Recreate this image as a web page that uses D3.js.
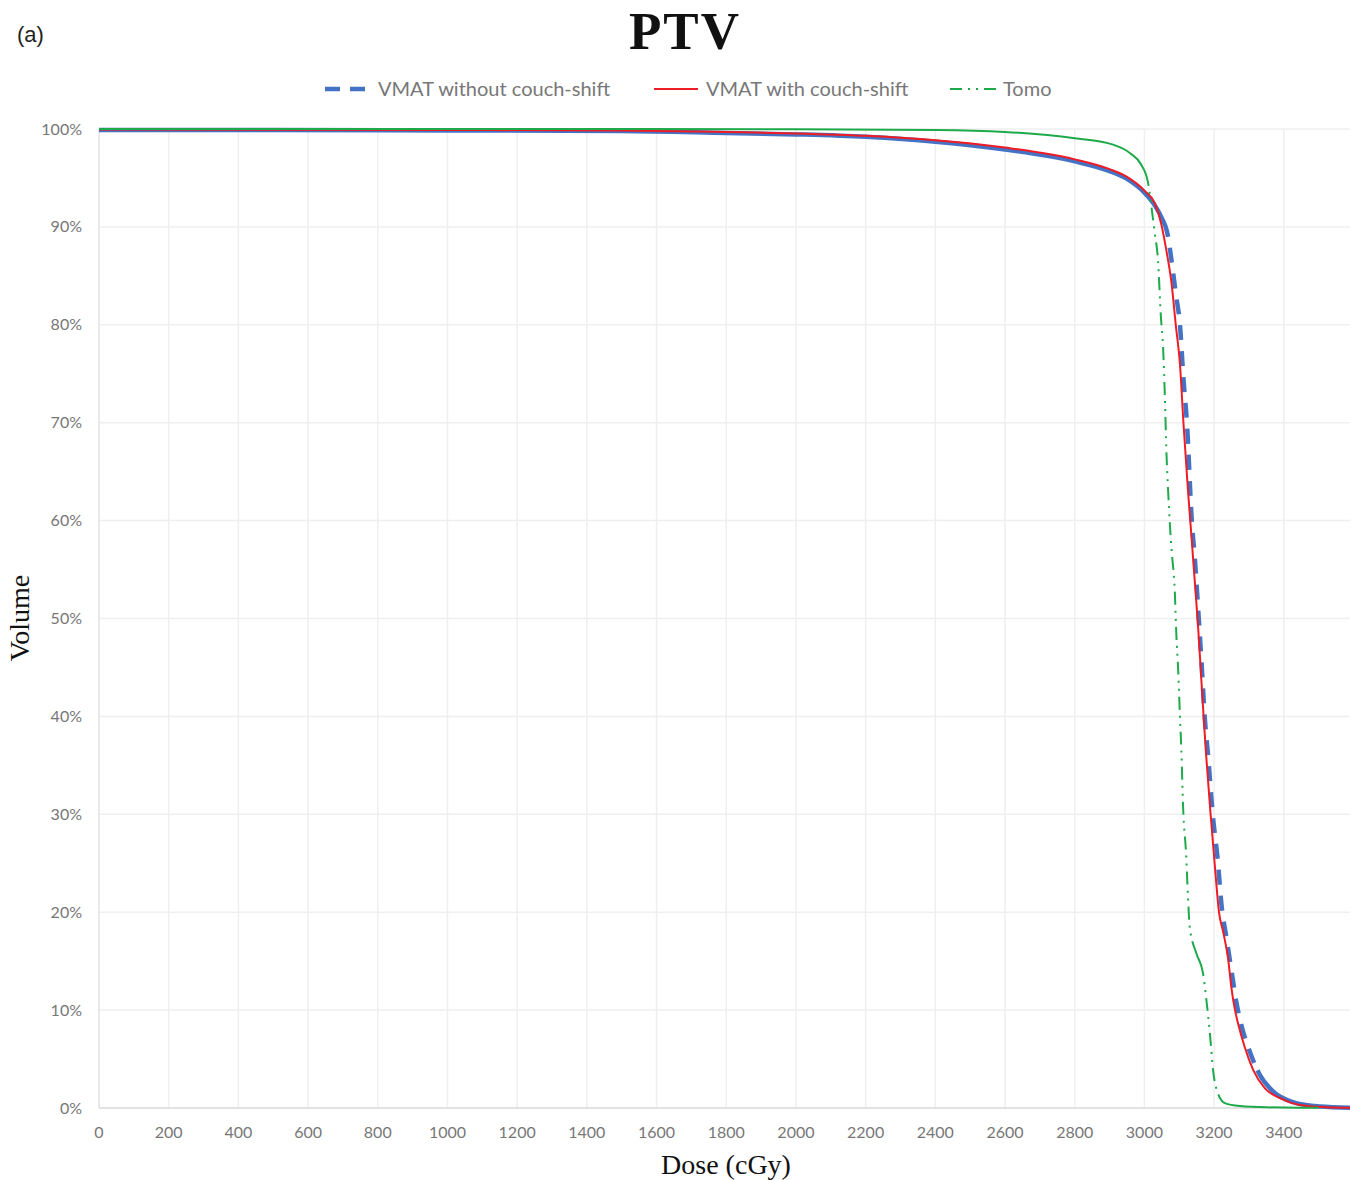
<!DOCTYPE html>
<html>
<head>
<meta charset="utf-8">
<title>PTV dose-volume histogram</title>
<script src="https://d3js.org/d3.v7.min.js"></script>
<style>
  body { margin: 0; background: #fff; }
  svg text { font-family: Lato, "Open Sans", sans-serif; }
</style>
</head>
<body>
<div id="chart"></div>
<script>
// ---- data (dose in cGy, volume in %) ----
const xTicks = [0, 200, 400, 600, 800, 1000, 1200, 1400, 1600, 1800, 2000, 2200, 2400, 2600, 2800, 3000, 3200, 3400];
const yTicks = [0, 10, 20, 30, 40, 50, 60, 70, 80, 90, 100];
const seriesNames = ["VMAT without couch-shift", "VMAT with couch-shift", "Tomo"];

const vmatNoShiftDose = [0, 500, 1000, 1500, 1800, 2000, 2200, 2400, 2600, 2800, 2900, 2950, 3000, 3030, 3050, 3065, 3080, 3090, 3102, 3112, 3122, 3136, 3145, 3156, 3164, 3173, 3183, 3196, 3210, 3222, 3235, 3250, 3264, 3278, 3302, 3331, 3369, 3426, 3503, 3590];
const vmatNoShiftVol  = [99.9, 99.9, 99.85, 99.8, 99.6, 99.45, 99.2, 98.7, 97.9, 96.7, 95.7, 94.9, 93.5, 92.2, 90.9, 89.5, 86.0, 83.2, 80.0, 74.5, 70.0, 60.0, 56.0, 50.0, 45.5, 40.0, 35.9, 30.0, 25.5, 20.5, 17.5, 14.0, 10.8, 8.5, 5.8, 3.4, 1.7, 0.6, 0.15, 0.03];

const vmatShiftDose = [0, 1000, 1500, 1800, 2000, 2200, 2400, 2600, 2800, 2900, 2950, 3000, 3030, 3049, 3063, 3078, 3090, 3102, 3112, 3125, 3135, 3145, 3154, 3164, 3176, 3190, 3205, 3214, 3226, 3240, 3250, 3260, 3269, 3288, 3312, 3346, 3389, 3446, 3520, 3590];
const vmatShiftVol  = [99.95, 99.9, 99.85, 99.7, 99.55, 99.3, 98.85, 98.1, 96.9, 95.9, 95.1, 93.7, 92.4, 90.2, 87.6, 84.2, 80.0, 76.0, 70.0, 63.1, 58.4, 53.6, 49.2, 43.4, 36.6, 30.0, 23.5, 20.0, 18.0, 15.3, 12.2, 10.0, 8.6, 6.2, 3.9, 2.0, 1.0, 0.3, 0.08, 0.02];

const tomoDose = [0, 1500, 2000, 2400, 2600, 2800, 2910, 2960, 2990, 3010, 3020, 3030, 3039, 3047, 3054, 3059, 3063, 3068, 3073, 3078, 3087, 3092, 3097, 3102, 3106, 3111, 3120, 3125, 3130, 3149, 3168, 3178, 3188, 3197, 3211, 3231, 3274, 3350, 3500];
const tomoVol  = [100, 100, 99.97, 99.9, 99.7, 99.05, 98.4, 97.5, 96.4, 94.6, 92.1, 89.3, 86.6, 81.0, 77.4, 72.3, 67.2, 63.1, 59.7, 57.0, 52.9, 48.1, 44.7, 40.0, 36.6, 30.8, 25.7, 21.6, 18.5, 15.8, 13.8, 11.0, 7.6, 3.9, 1.5, 0.5, 0.2, 0.07, 0.02];

// ---- layout ----
const W = 1359, H = 1180;
const plot = { left: 99, right: 1350, top: 129, bottom: 1108 };

const svg = d3.select("#chart").append("svg")
    .attr("width", W).attr("height", H);

const x = d3.scaleLinear().domain([0, 3590]).range([plot.left, plot.right]);
const y = d3.scaleLinear().domain([0, 100]).range([plot.bottom, plot.top]);

// gridlines
svg.append("g").selectAll("line").data(yTicks.filter(d => d > 0)).join("line")
    .attr("x1", plot.left).attr("x2", plot.right)
    .attr("y1", d => y(d)).attr("y2", d => y(d))
    .attr("stroke", "#efefef").attr("stroke-width", 1.5);
svg.append("g").selectAll("line").data(xTicks.filter(d => d > 0)).join("line")
    .attr("x1", d => x(d)).attr("x2", d => x(d))
    .attr("y1", plot.top).attr("y2", plot.bottom)
    .attr("stroke", "#efefef").attr("stroke-width", 1.5);

// axis lines
svg.append("line")
    .attr("x1", plot.left).attr("x2", plot.left)
    .attr("y1", plot.top).attr("y2", plot.bottom)
    .attr("stroke", "#e3e3e3").attr("stroke-width", 1.5);
svg.append("line")
    .attr("x1", plot.left).attr("x2", plot.right)
    .attr("y1", plot.bottom).attr("y2", plot.bottom)
    .attr("stroke", "#d9d9d9").attr("stroke-width", 1.5);

// tick labels
svg.append("g").selectAll("text").data(yTicks).join("text")
    .attr("x", 82).attr("y", d => y(d) + 5.5)
    .attr("text-anchor", "end")
    .attr("font-size", 16).attr("fill", "#777")
    .text(d => d + "%");
svg.append("g").selectAll("text").data(xTicks).join("text")
    .attr("x", d => x(d)).attr("y", plot.bottom + 30)
    .attr("text-anchor", "middle")
    .attr("font-size", 16).attr("fill", "#777")
    .text(d => d);

// Excel restarts its dash pattern at every data point, so the dense flat runs
// come out solid and only the steep parts show dashes. Mimic that: walk the
// drawn path and dash only where it is steep (px of path per cGy above thr).
function excelDash(node, pattern, thr) {
    const total = node.getTotalLength();
    const out = [];
    const push = (on, len) => {
        if (len <= 0) return;
        const last = out[out.length - 1];
        if (last && last[0] === on) last[1] += len; else out.push([on, len]);
    };
    let idx = 0, rem = pattern[0];
    let prev = node.getPointAtLength(0);
    for (let s = 0; s < total; s += 1) {
        const ds = Math.min(1, total - s);
        const p = node.getPointAtLength(s + ds);
        const dDose = Math.abs(x.invert(p.x) - x.invert(prev.x));
        const rate = dDose > 1e-6 ? ds / dDose : Infinity;
        prev = p;
        if (rate < thr) {
            push(true, ds);
            idx = 0; rem = pattern[0];
            continue;
        }
        let left = ds;
        while (left > 1e-9) {
            const take = Math.min(rem, left);
            push(idx % 2 === 0, take);
            rem -= take; left -= take;
            if (rem <= 1e-9) { idx++; rem = pattern[idx % pattern.length]; }
        }
    }
    if (out.length && out[out.length - 1][0]) out.push([false, 2000]);
    return out.map(d => d[1].toFixed(2)).join(" ");
}

const line = d3.line().curve(d3.curveMonotoneX).x(d => x(d[0])).y(d => y(d[1]));
const zip = (a, b) => a.map((d, i) => [d, b[i]]);

const blueDash = [15, 11];
const greenDash = [13, 6, 2, 6, 2, 6];

const blue = svg.append("path")
    .datum(zip(vmatNoShiftDose, vmatNoShiftVol))
    .attr("fill", "none").attr("stroke", "#4472c4").attr("stroke-width", 4.5)
    .attr("d", line);
blue.attr("stroke-dasharray", excelDash(blue.node(), blueDash, 0.8));

svg.append("path")
    .datum(zip(vmatShiftDose, vmatShiftVol))
    .attr("fill", "none").attr("stroke", "#ee1c25").attr("stroke-width", 2)
    .attr("d", line);

const green = svg.append("path")
    .datum(zip(tomoDose, tomoVol))
    .attr("fill", "none").attr("stroke", "#1eaa4a").attr("stroke-width", 2)
    .attr("d", line);
green.attr("stroke-dasharray", excelDash(green.node(), greenDash, 1.0));

// legend
const legend = [
    { x0: 325, x1: 368, tx: 378, color: "#4472c4", w: 4.5, dash: "15 10" },
    { x0: 654, x1: 698, tx: 706, color: "#ee1c25", w: 2, dash: null },
    { x0: 950, x1: 997, tx: 1003, color: "#1eaa4a", w: 2, dash: "12 6 2 6 2 6" }
];
legend.forEach((l, i) => {
    svg.append("line")
        .attr("x1", l.x0).attr("x2", l.x1).attr("y1", 89).attr("y2", 89)
        .attr("stroke", l.color).attr("stroke-width", l.w)
        .attr("stroke-dasharray", l.dash);
    svg.append("text")
        .attr("x", l.tx).attr("y", 95.5)
        .attr("font-size", 20).attr("fill", "#777")
        .text(seriesNames[i]);
});

// titles
svg.append("text")
    .attr("x", 685).attr("y", 49)
    .attr("text-anchor", "middle")
    .style("font-family", "'Liberation Serif', 'Times New Roman', serif")
    .attr("font-weight", "bold").attr("font-size", 53).attr("fill", "#111")
    .attr("letter-spacing", 2)
    .text("PTV");

svg.append("text")
    .attr("x", 17).attr("y", 42)
    .style("font-family", "'Liberation Sans', Arial, sans-serif")
    .attr("font-size", 22).attr("fill", "#222")
    .text("(a)");

svg.append("text")
    .attr("transform", "translate(29, 618) rotate(-90)")
    .attr("text-anchor", "middle")
    .style("font-family", "'Liberation Serif', 'Times New Roman', serif")
    .attr("font-size", 28).attr("fill", "#111")
    .text("Volume");

svg.append("text")
    .attr("x", 726).attr("y", 1174)
    .attr("text-anchor", "middle")
    .style("font-family", "'Liberation Serif', 'Times New Roman', serif")
    .attr("font-size", 28).attr("fill", "#111")
    .text("Dose (cGy)");
</script>
</body>
</html>
